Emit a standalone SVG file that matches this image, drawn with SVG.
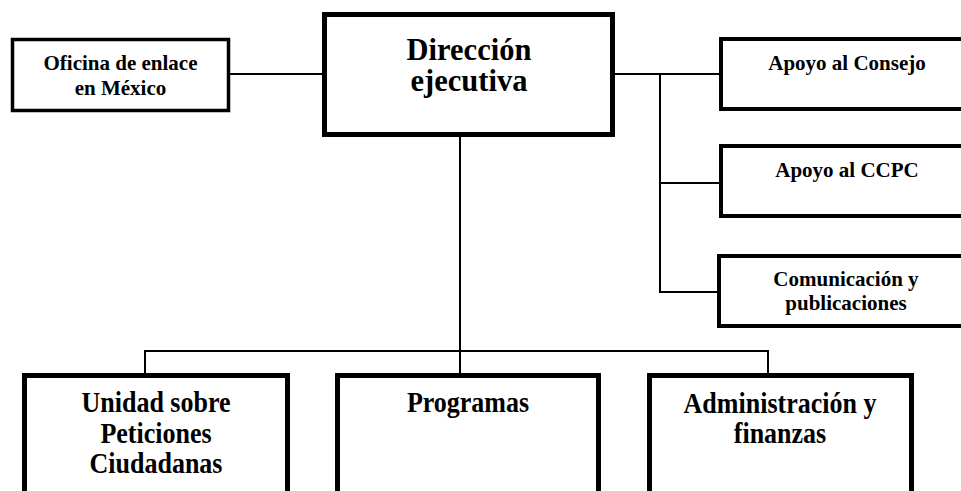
<svg xmlns="http://www.w3.org/2000/svg" width="961" height="491" viewBox="0 0 961 491">
<style>
.box{fill:#fff;stroke:#000}
.t{font-family:"Liberation Serif","Times New Roman",serif;font-weight:bold;fill:#000;text-anchor:middle}
.conn{fill:none;stroke:#000;stroke-width:2}
</style>
<rect width="961" height="491" fill="#fff"/>
<g id="connectors">
<line class="conn" x1="230" y1="74" x2="322" y2="74"/>
<line class="conn" x1="615" y1="74" x2="719" y2="74"/>
<polyline class="conn" points="660,74 660,292 717,292"/>
<line class="conn" x1="660" y1="183" x2="719" y2="183"/>
<line class="conn" x1="460" y1="137" x2="460" y2="373"/>
<polyline class="conn" points="145,373 145,351 768,351 768,373"/>
</g>
<g id="oficina">
<rect class="box" x="12.5" y="39.5" width="216" height="71" stroke-width="3.5"/>
<text class="t" x="120.5" y="70" font-size="21">Oficina de enlace</text>
<text class="t" x="120.5" y="95" font-size="21">en México</text>
</g>
<g id="direccion">
<rect class="box" x="324.5" y="14.5" width="288" height="120" stroke-width="5"/>
<text class="t" x="469" y="60" font-size="30.5">Dirección</text>
<text class="t" x="469" y="91" font-size="30.5">ejecutiva</text>
</g>
<g id="consejo">
<rect class="box" x="721" y="39" width="300" height="70" stroke-width="4"/>
<text class="t" x="847" y="70" font-size="21">Apoyo al Consejo</text>
</g>
<g id="ccpc">
<rect class="box" x="721" y="146" width="300" height="70" stroke-width="4"/>
<text class="t" x="847" y="177" font-size="21">Apoyo al CCPC</text>
</g>
<g id="comunicacion">
<rect class="box" x="719" y="256" width="300" height="70" stroke-width="4"/>
<text class="t" x="846" y="286" font-size="21">Comunicación y</text>
<text class="t" x="846" y="310" font-size="21">publicaciones</text>
</g>
<g id="unidad">
<rect class="box" x="24.5" y="375.5" width="263" height="200" stroke-width="5"/>
<text class="t" font-size="26" transform="translate(156 412) scale(1 1.1)">Unidad sobre</text>
<text class="t" font-size="26" transform="translate(156 442.5) scale(1 1.1)">Peticiones</text>
<text class="t" font-size="26" transform="translate(156 473) scale(1 1.1)">Ciudadanas</text>
</g>
<g id="programas">
<rect class="box" x="337.5" y="375.5" width="261" height="200" stroke-width="5"/>
<text class="t" font-size="26" transform="translate(468 412) scale(1 1.1)">Programas</text>
</g>
<g id="administracion">
<rect class="box" x="649.5" y="375.5" width="262" height="200" stroke-width="5"/>
<text class="t" font-size="26" transform="translate(780 412.5) scale(1 1.1)">Administración y</text>
<text class="t" font-size="26" transform="translate(780 442.5) scale(1 1.1)">finanzas</text>
</g>
</svg>
